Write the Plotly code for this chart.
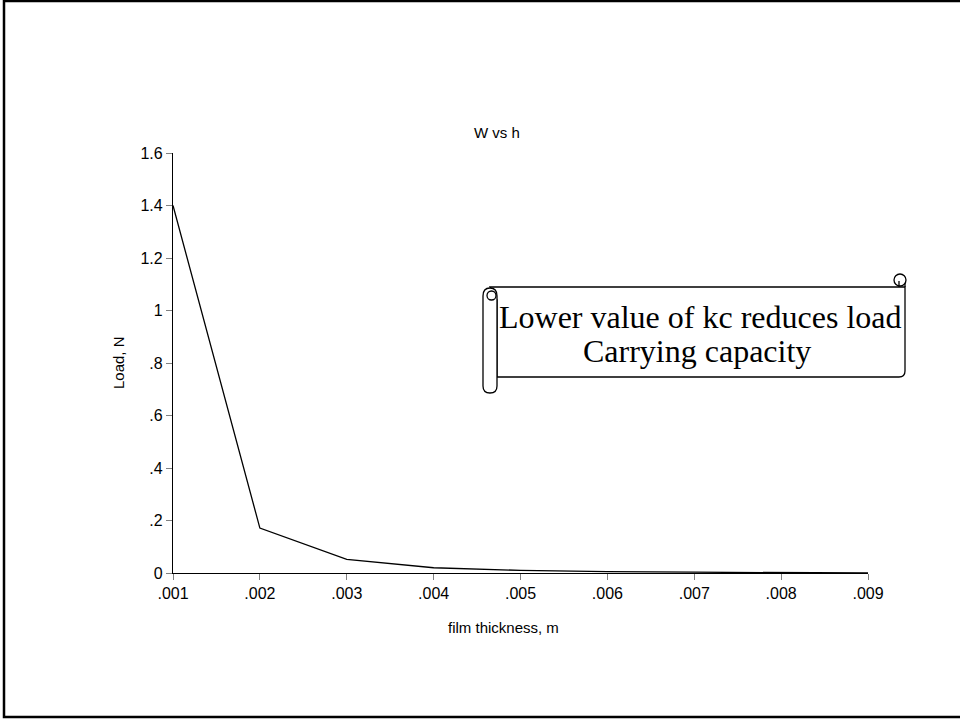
import plotly.graph_objects as go

# ---- data ----
film_thickness = [0.001, 0.002, 0.003, 0.004, 0.005, 0.006, 0.007, 0.008, 0.009]
load_n = [1.40, 0.171, 0.052, 0.020, 0.010, 0.005, 0.003, 0.002, 0.0]
x_tick_labels = [".001", ".002", ".003", ".004", ".005", ".006", ".007", ".008", ".009"]
y_tick_values = [0, 0.2, 0.4, 0.6, 0.8, 1.0, 1.2, 1.4, 1.6]
y_tick_labels = ["0", ".2", ".4", ".6", ".8", "1", "1.2", "1.4", "1.6"]
title_text = "W vs h"
x_title = "film thickness, m"
y_title = "Load, N"
note_lines = ["Lower value of kc reduces load", "Carrying capacity"]

# ---- layout geometry (pixels) ----
W, H = 960, 719
L, R, T, B = 173, 868, 153, 573
PW, PH = R - L, B - T


def px(x):
    return (x - L) / PW


def py(y):
    return (B - y) / PH


def path(cmds):
    out = []
    for c in cmds:
        if isinstance(c, str):
            out.append(c)
        else:
            out.append(f"{px(c[0]):.5f},{py(c[1]):.5f}")
    return " ".join(out)


SANS = "Liberation Sans, Arial, sans-serif"
SERIF = "Liberation Serif, Times New Roman, serif"

fig = go.Figure()
fig.add_trace(go.Scatter(x=film_thickness, y=load_n, mode="lines",
                         line=dict(color="black", width=1.3),
                         showlegend=False, hoverinfo="skip"))

axis_common = dict(showline=True, linecolor="black", linewidth=1.3,
                   ticks="outside", tickcolor="#808080", tickwidth=1.3, ticklen=6,
                   showgrid=False, zeroline=False,
                   tickfont=dict(family=SANS, size=16, color="black"))

fig.update_xaxes(range=[film_thickness[0], film_thickness[-1]],
                 tickmode="array", tickvals=film_thickness, ticktext=x_tick_labels,
                 **axis_common)
fig.update_yaxes(range=[y_tick_values[0], y_tick_values[-1]],
                 tickmode="array", tickvals=y_tick_values, ticktext=y_tick_labels,
                 **axis_common)

shapes = []
# outer frame
shapes.append(dict(type="rect", xref="paper", yref="paper",
                   x0=px(4), x1=px(963), y0=py(1), y1=py(717),
                   line=dict(color="black", width=2.5), layer="above"))

# scroll banner body
body = path(["M", (490, 287), "L", (905, 287), "L", (905, 371),
             "Q", (905, 377), (899, 377), "L", (497, 377), "L", (497, 300), "Z"])
shapes.append(dict(type="path", xref="paper", yref="paper", path=body,
                   fillcolor="white", line=dict(color="black", width=1.3), layer="above"))
# right top curl
shapes.append(dict(type="path", xref="paper", yref="paper",
                   path=path(["M", (905, 287), "L", (905, 280)]),
                   line=dict(color="black", width=1.3), layer="above"))
shapes.append(dict(type="circle", xref="paper", yref="paper",
                   x0=px(894), x1=px(906), y0=py(274), y1=py(286),
                   fillcolor="white", line=dict(color="black", width=1.3), layer="above"))
shapes.append(dict(type="path", xref="paper", yref="paper",
                   path=path(["M", (899, 281), "L", (899, 287)]),
                   line=dict(color="black", width=1.3), layer="above"))
# left roll
roll = path(["M", (483, 296), "Q", (483, 288), (490, 288), "Q", (497, 288), (497, 296),
             "L", (497, 386), "Q", (497, 393), (490, 393), "Q", (483, 393), (483, 386), "Z"])
shapes.append(dict(type="path", xref="paper", yref="paper", path=roll,
                   fillcolor="white", line=dict(color="black", width=1.3), layer="above"))
shapes.append(dict(type="circle", xref="paper", yref="paper",
                   x0=px(487), x1=px(496), y0=py(291), y1=py(300),
                   fillcolor="white", line=dict(color="black", width=1.3), layer="above"))

annotations = [
    dict(text=title_text, x=px(497), y=py(133), xref="paper", yref="paper",
         showarrow=False, xanchor="center", yanchor="middle",
         font=dict(family=SANS, size=15, color="black")),
    dict(text=x_title, x=px(503), y=py(627), xref="paper", yref="paper",
         showarrow=False, xanchor="center", yanchor="middle",
         font=dict(family=SANS, size=15, color="black")),
    dict(text=y_title, x=px(118), y=py(363), xref="paper", yref="paper",
         showarrow=False, xanchor="center", yanchor="middle", textangle=-90,
         font=dict(family=SANS, size=15, color="black")),
    dict(text=note_lines[0], x=px(700), y=py(317), xref="paper", yref="paper",
         showarrow=False, xanchor="center", yanchor="middle",
         font=dict(family=SERIF, size=32, color="black")),
    dict(text=note_lines[1], x=px(697), y=py(351), xref="paper", yref="paper",
         showarrow=False, xanchor="center", yanchor="middle",
         font=dict(family=SERIF, size=32, color="black")),
]

fig.update_layout(width=W, height=H, autosize=False,
                  margin=dict(l=L, r=W - R, t=T, b=H - B, pad=0),
                  paper_bgcolor="white", plot_bgcolor="white",
                  shapes=shapes, annotations=annotations,
                  showlegend=False)

fig.write_html("out.html", config={"displayModeBar": False})
